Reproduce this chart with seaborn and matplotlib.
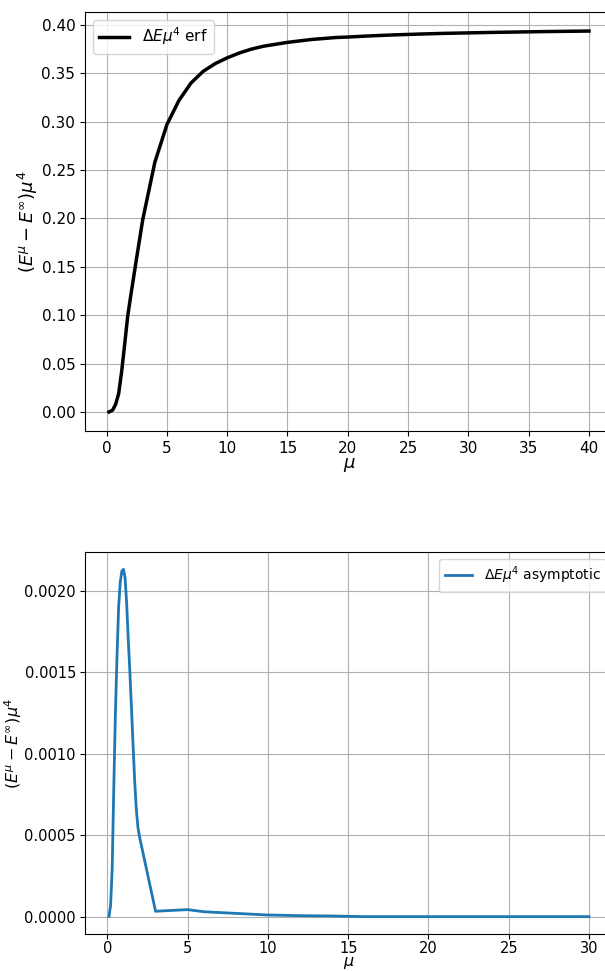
import matplotlib
matplotlib.use("Agg")
import matplotlib.pyplot as plt
import seaborn as sns
import pandas as pd

# Top panel: erf
mu_erf = [0.2, 0.5, 0.75, 1.0, 1.25, 1.5, 1.75, 2.0, 2.5, 3, 4, 5, 6, 7, 8, 9, 10,
          11, 12, 13, 14, 15, 16, 17, 18, 19, 20, 22, 24, 26, 28, 30, 32, 34, 36, 38, 40]
de_erf = [0.0001, 0.002, 0.008, 0.019, 0.042, 0.070, 0.099, 0.120, 0.160, 0.199,
          0.258, 0.297, 0.322, 0.340, 0.352, 0.360, 0.366, 0.371, 0.375, 0.378, 0.380,
          0.382, 0.3835, 0.385, 0.386, 0.387, 0.3875, 0.3888, 0.3898, 0.3906, 0.3913,
          0.3918, 0.3923, 0.3927, 0.3931, 0.3934, 0.3937]

# Bottom panel: asymptotic
mu_asy = [0.1, 0.2, 0.3, 0.4, 0.5, 0.6, 0.7, 0.8, 0.9, 1.0, 1.1, 1.2, 1.3, 1.4,
          1.5, 1.6, 1.7, 1.8, 1.9, 2.0, 3, 4, 5, 6, 7, 8, 10, 12, 14, 16, 18, 20,
          22, 24, 26, 28, 30]
de_asy = [0.000001, 0.00007, 0.0003, 0.0008, 0.00125, 0.0016, 0.0019, 0.00205,
          0.00212, 0.00213, 0.00208, 0.00192, 0.00170, 0.00150, 0.00128, 0.00105,
          0.00083, 0.00066, 0.00055, 0.00049, 0.000033, 0.000038, 0.000043, 0.000030,
          0.000025, 0.00002, 0.00001, 0.000006, 0.000004, 0.0, 0.0, 0.0, 0.0, 0.0,
          0.0, 0.0, 0.0]

df_erf = pd.DataFrame({"mu": mu_erf, "de": de_erf})
df_asy = pd.DataFrame({"mu": mu_asy, "de": de_asy})

plt.rcParams['font.family'] = ['DejaVu Sans']
fig = plt.figure(figsize=(6.05, 9.71), dpi=100)

W, H = 605, 971
ax1 = fig.add_axes([85 / W, 1 - 431 / H, 528 / W, (431 - 12) / H])
ax2 = fig.add_axes([85 / W, 1 - 934 / H, 528 / W, (934 - 552) / H])

ylab = r"$(E^{\mu}-E^{\infty})\mu^4$"

sns.lineplot(data=df_erf, x="mu", y="de", ax=ax1, color="black", linewidth=2.5,
             label=r"$\Delta E\mu^4$ erf")
ax1.grid(True, color="#b0b0b0", linewidth=0.8)
ax1.set_xlabel(r"$\mu$", fontsize=13, labelpad=0)
ax1.set_ylabel(ylab, fontsize=13, labelpad=1)
ax1.tick_params(labelsize=11)
ax1.legend(loc="upper left", fontsize=11)

sns.lineplot(data=df_asy, x="mu", y="de", ax=ax2, color="#1f77b4", linewidth=2,
             label=r"$\Delta E\mu^4$ asymptotic")
ax2.grid(True, color="#b0b0b0", linewidth=0.8)
ax2.set_xlabel(r"$\mu$", fontsize=11.5, labelpad=-0.5)
ax2.set_ylabel(ylab, fontsize=11.5, labelpad=0)
ax2.tick_params(axis="x", labelsize=10.5, pad=1.5)
ax2.tick_params(axis="y", labelsize=10.5, pad=3)
ax2.legend(loc="upper right", fontsize=10)

fig.savefig("out.png", dpi=100)
